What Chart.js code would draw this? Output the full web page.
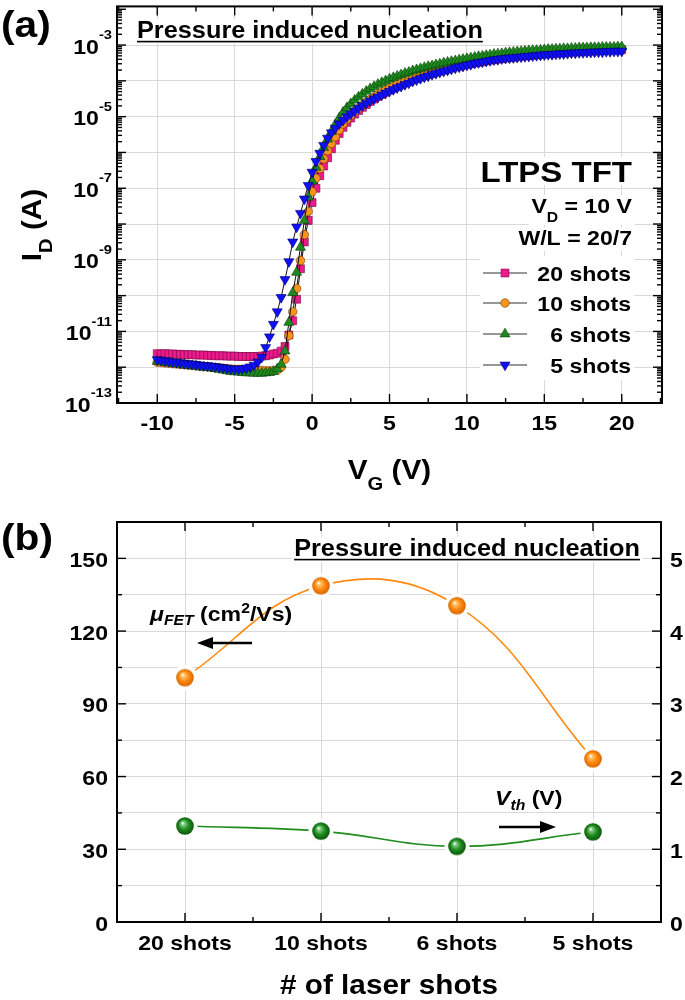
<!DOCTYPE html>
<html>
<head>
<meta charset="utf-8">
<script src="https://cdn.jsdelivr.net/npm/chart.js@4.4.0/dist/chart.umd.min.js"></script>
<style>
html, body { margin: 0; padding: 0; background: #fff; }
#wrap { position: relative; width: 685px; height: 1000px; }
.pane { position: absolute; left: 0; width: 685px; height: 500px; }
</style>
</head>
<body>
<div id="wrap">
  <div class="pane" style="top:0"><canvas id="chartA" width="685" height="500"></canvas></div>
  <div class="pane" style="top:500px"><canvas id="chartB" width="685" height="500"></canvas></div>
</div>
<script>
// ---------- panel (a): transfer curves, log10(I_D) ----------
const vg = [
  -10,-9.75,-9.5,-9.25,-9,-8.75,-8.5,-8.25,-8,-7.75,-7.5,-7.25,-7,-6.75,-6.5,-6.25,
  -6,-5.75,-5.5,-5.25,-5,-4.75,-4.5,-4.25,-4,-3.75,-3.5,-3.25,-3,-2.75,-2.5,-2.25,
  -2,-1.75,-1.5,-1.25,-1,-0.75,-0.5,-0.25,0,0.25,0.5,0.75,1,1.25,1.5,1.75,
  2,2.25,2.5,2.75,3,3.25,3.5,3.75,4,4.25,4.5,4.75,5,5.25,5.5,5.75,
  6,6.25,6.5,6.75,7,7.25,7.5,7.75,8,8.25,8.5,8.75,9,9.25,9.5,9.75,
  10,10.25,10.5,10.75,11,11.25,11.5,11.75,12,12.25,12.5,12.75,13,13.25,13.5,13.75,
  14,14.25,14.5,14.75,15,15.25,15.5,15.75,16,16.25,16.5,16.75,17,17.25,17.5,17.75,
  18,18.25,18.5,18.75,19,19.25,19.5,19.75,20
];
const log20shots = [
  -11.62,-11.63,-11.62,-11.63, -11.63,-11.64,-11.64,-11.65, -11.65,-11.65,-11.66,-11.66,
  -11.66,-11.67,-11.67,-11.68, -11.68,-11.68,-11.69,-11.69, -11.69,-11.70,-11.70,-11.70,
  -11.70,-11.70,-11.70,-11.69, -11.68,-11.66,-11.63,-11.61, -11.55,-11.42,-11.10,-10.70,
  -10.10,-9.25,-8.50,-7.90, -7.40,-7.00,-6.65,-6.38, -6.15,-5.90,-5.66,-5.47,
  -5.30,-5.16,-5.04,-4.93, -4.83,-4.74,-4.66,-4.58, -4.51,-4.44,-4.38,-4.32,
  -4.26,-4.21,-4.16,-4.11, -4.06,-4.02,-3.97,-3.93, -3.89,-3.86,-3.82,-3.79,
  -3.75,-3.72,-3.69,-3.67, -3.64,-3.61,-3.59,-3.56, -3.54,-3.52,-3.50,-3.48,
  -3.46,-3.44,-3.42,-3.41, -3.39,-3.38,-3.36,-3.35, -3.34,-3.32,-3.31,-3.30,
  -3.29,-3.28,-3.27,-3.26, -3.25,-3.24,-3.23,-3.22, -3.22,-3.21,-3.20,-3.19,
  -3.19,-3.18,-3.17,-3.17, -3.16,-3.16,-3.15,-3.15, -3.14,-3.14,-3.13,-3.13, -3.13
];
const log10shots = [
  -11.86,-11.87,-11.88,-11.89, -11.90,-11.91,-11.92,-11.93, -11.94,-11.95,-11.96,-11.97,
  -11.98,-11.99,-12.00,-12.01, -12.02,-12.03,-12.04,-12.05, -12.06,-12.06,-12.07,-12.07,
  -12.08,-12.08,-12.09,-12.09, -12.10,-12.10,-12.10,-12.08, -12.00,-11.78,-11.12,-10.45,
  -9.80,-9.02,-8.30,-7.65, -7.10,-6.72,-6.45,-6.18, -5.95,-5.75,-5.56,-5.37,
  -5.20,-5.07,-4.96,-4.86, -4.77,-4.68,-4.60,-4.52, -4.45,-4.38,-4.32,-4.26,
  -4.20,-4.15,-4.10,-4.05, -4.00,-3.96,-3.92,-3.88, -3.84,-3.80,-3.77,-3.73,
  -3.70,-3.67,-3.64,-3.61, -3.59,-3.56,-3.54,-3.51, -3.49,-3.47,-3.45,-3.43,
  -3.41,-3.39,-3.38,-3.36, -3.35,-3.33,-3.32,-3.30, -3.29,-3.28,-3.27,-3.26,
  -3.25,-3.24,-3.23,-3.22, -3.21,-3.20,-3.19,-3.18, -3.18,-3.17,-3.16,-3.16,
  -3.15,-3.14,-3.14,-3.13, -3.13,-3.12,-3.12,-3.11, -3.11,-3.11,-3.10,-3.10, -3.10
];
const log6shots = [
  -11.84,-11.85,-11.87,-11.88, -11.90,-11.91,-11.92,-11.94, -11.95,-11.96,-11.97,-11.99,
  -12.00,-12.01,-12.02,-12.04, -12.06,-12.08,-12.10,-12.12, -12.13,-12.14,-12.15,-12.16,
  -12.16,-12.17,-12.17,-12.17, -12.16,-12.15,-12.12,-12.05, -11.92,-11.55,-10.75,-9.92,
  -9.35,-8.65,-7.90,-7.25, -6.80,-6.42,-6.12,-5.86, -5.63,-5.42,-5.22,-5.04,
  -4.88,-4.75,-4.64,-4.54, -4.45,-4.37,-4.29,-4.22, -4.16,-4.10,-4.05,-4.00,
  -3.95,-3.91,-3.87,-3.83, -3.79,-3.76,-3.72,-3.69, -3.66,-3.63,-3.60,-3.58,
  -3.55,-3.53,-3.50,-3.48, -3.46,-3.44,-3.42,-3.40, -3.38,-3.36,-3.34,-3.32,
  -3.31,-3.29,-3.28,-3.26, -3.25,-3.24,-3.22,-3.21, -3.20,-3.19,-3.18,-3.17,
  -3.16,-3.15,-3.15,-3.14, -3.13,-3.12,-3.12,-3.11, -3.11,-3.10,-3.10,-3.09,
  -3.09,-3.08,-3.08,-3.08, -3.07,-3.07,-3.07,-3.06, -3.06,-3.06,-3.06,-3.05, -3.05
];
const log5shots = [
  -11.79,-11.80,-11.82,-11.83, -11.85,-11.86,-11.87,-11.89, -11.90,-11.91,-11.92,-11.94,
  -11.95,-11.96,-11.97,-11.98, -12.00,-12.01,-12.03,-12.04, -12.05,-12.05,-12.04,-12.02,
  -11.99,-11.94,-11.85,-11.72, -11.45,-11.15,-10.80,-10.45, -10.05,-9.55,-9.05,-8.50,
  -8.08,-7.70,-7.30,-6.92, -6.55,-6.25,-6.02,-5.80, -5.60,-5.45,-5.32,-5.20,
  -5.10,-5.00,-4.92,-4.84, -4.76,-4.69,-4.62,-4.56, -4.50,-4.45,-4.39,-4.34,
  -4.29,-4.24,-4.19,-4.15, -4.10,-4.06,-4.01,-3.97, -3.93,-3.89,-3.86,-3.82,
  -3.79,-3.76,-3.73,-3.70, -3.67,-3.64,-3.61,-3.59, -3.56,-3.54,-3.51,-3.49,
  -3.47,-3.45,-3.43,-3.41, -3.40,-3.38,-3.37,-3.36, -3.35,-3.34,-3.33,-3.32,
  -3.31,-3.30,-3.29,-3.28, -3.27,-3.26,-3.26,-3.25, -3.24,-3.24,-3.23,-3.22,
  -3.22,-3.21,-3.21,-3.20, -3.20,-3.19,-3.19,-3.19, -3.18,-3.18,-3.17,-3.17, -3.17
];
const seriesNames = ['20 shots', '10 shots', '6 shots', '5 shots'];
const xTickValues = [-10, -5, 0, 5, 10, 15, 20];
const yTickExponents = [-13, -11, -9, -7, -5, -3];

// ---------- panel (b): mobility and threshold voltage ----------
const shotLabels = ['20 shots', '10 shots', '6 shots', '5 shots'];
const mobility = [100.8, 138.7, 130.5, 67.3];
const vth = [1.32, 1.25, 1.04, 1.24];
const leftTicks = [0, 30, 60, 90, 120, 150];
const rightTicks = [0, 1, 2, 3, 4, 5];

// ---------- text helpers ----------
const FONT = '"Liberation Sans", Arial, sans-serif';
const SX = 1.1; // the original lettering is a little wider than Arial

function rich(ctx, segs, x, y, size, align, box) {
  const parts = [];
  let w = 0;
  for (const s of segs) {
    const small = s.sub || s.sup;
    const sz = size * (s.sz || (small ? 0.68 : 1));
    const dy = size * (s.dy !== undefined ? s.dy : (s.sub ? 0.42 : s.sup ? -0.45 : 0));
    const font = (s.it ? 'italic ' : '') + 'bold ' + sz.toFixed(1) + 'px ' + FONT;
    ctx.font = font;
    const mw = ctx.measureText(s.t).width * SX;
    parts.push({ t: s.t, font, dy, w: mw });
    w += mw;
  }
  let cx = align === 'center' ? x - w / 2 : align === 'right' ? x - w : x;
  const left = cx;
  ctx.save();
  if (box) {
    ctx.fillStyle = '#fff';
    ctx.fillRect(left - 3, y - box[0], w + 6, box[0] + box[1]);
  }
  ctx.fillStyle = '#000';
  ctx.textAlign = 'left';
  ctx.textBaseline = 'alphabetic';
  for (const p of parts) {
    ctx.font = p.font;
    ctx.save();
    ctx.translate(cx, y + p.dy);
    ctx.scale(SX, 1);
    ctx.fillText(p.t, 0, 0);
    ctx.restore();
    cx += p.w;
  }
  ctx.restore();
  return { left, width: w };
}

function tick(ctx, x1, y1, x2, y2) {
  ctx.beginPath();
  ctx.moveTo(x1, y1);
  ctx.lineTo(x2, y2);
  ctx.stroke();
}

function arrow(ctx, x1, y, x2) {
  const dir = Math.sign(x2 - x1), hl = 16, hw = 6;
  ctx.save();
  ctx.strokeStyle = '#000';
  ctx.fillStyle = '#000';
  ctx.lineWidth = 2.4;
  tick(ctx, x1, y, x2 - dir * (hl - 1), y);
  ctx.beginPath();
  ctx.moveTo(x2, y);
  ctx.lineTo(x2 - dir * hl, y - hw);
  ctx.lineTo(x2 - dir * hl, y + hw);
  ctx.closePath();
  ctx.fill();
  ctx.restore();
}

// ---------- panel (a) chart ----------
const styleA = [
  { style: 'rect', r: 5.6, rot: 0, fill: '#EC1A8A', edge: '#7a0a45', order: 4 },
  { style: 'circle', r: 4.3, rot: 0, fill: '#F7931E', edge: '#7a4200', order: 3 },
  { style: 'triangle', r: 5.8, rot: 0, fill: '#1E8A1E', edge: '#0a3d0a', order: 2 },
  { style: 'triangle', r: 5.8, rot: 180, fill: '#1010F5', edge: '#00006a', order: 1 }
];
const logsA = [log20shots, log10shots, log6shots, log5shots];

const datasetsA = logsA.map((logs, k) => ({
  label: seriesNames[k],
  data: vg.map((v, i) => ({ x: v, y: Math.pow(10, logs[i]) })),
  borderColor: '#111',
  borderWidth: 1,
  pointStyle: styleA[k].style,
  pointRotation: styleA[k].rot,
  pointRadius: styleA[k].r,
  pointBackgroundColor: styleA[k].fill,
  pointBorderColor: styleA[k].edge,
  pointBorderWidth: 0.6,
  tension: 0,
  order: styleA[k].order
}));

const panelA = {
  id: 'panelA',
  afterDraw(chart) {
    const ctx = chart.ctx, a = chart.chartArea, xs = chart.scales.x, ys = chart.scales.y;
    ctx.save();

    // texts inside the plot (with white fill like the original)
    const t1 = rich(ctx, [{ t: 'Pressure induced nucleation' }], 137, 38, 23, 'left', [19, 6]);
    ctx.fillStyle = '#000';
    ctx.fillRect(t1.left, 40.8, t1.width, 1.6);
    rich(ctx, [{ t: 'LTPS TFT' }], 632, 182, 30, 'right', [25, 3]);
    rich(ctx, [{ t: 'V' }, { t: 'D', sub: 1 }, { t: ' = 10 V' }], 632, 213, 21, 'right', [18, 12]);
    rich(ctx, [{ t: 'W/L = 20/7' }], 632, 245, 21, 'right', [18, 6]);

    // legend
    ctx.fillStyle = '#fff';
    ctx.fillRect(480, 256, 154, 124);
    const rows = [273, 303, 334, 365];
    rows.forEach((ry, k) => {
      ctx.strokeStyle = '#333';
      ctx.lineWidth = 1.2;
      tick(ctx, 483, ry, 527, ry);
      ctx.fillStyle = styleA[k].fill;
      ctx.strokeStyle = styleA[k].edge;
      ctx.lineWidth = 0.6;
      Chart.helpers.drawPoint(ctx, { pointStyle: styleA[k].style, rotation: styleA[k].rot, radius: styleA[k].r, borderWidth: 0.6 }, 505, ry);
      rich(ctx, [{ t: seriesNames[k] }], 631, ry + 7.5, 21, 'right');
    });

    // frame and inward ticks
    ctx.strokeStyle = '#000';
    ctx.lineWidth = 2;
    ctx.strokeRect(a.left, a.top, a.right - a.left, a.bottom - a.top);
    ctx.lineWidth = 1.4;
    for (let v = -12.5; v <= 22.5; v += 2.5) {
      const p = xs.getPixelForValue(v);
      if (p < a.left || p > a.right) continue;
      const L = (v % 5 === 0) ? 9 : 5;
      tick(ctx, p, a.bottom, p, a.bottom - L);
      tick(ctx, p, a.top, p, a.top + L);
    }
    for (let e = -13; e <= -2; e++) {
      for (let m = 1; m <= 9; m++) {
        const val = m * Math.pow(10, e);
        if (val > ys.max) break;
        const p = ys.getPixelForValue(val);
        const L = m === 1 ? 9 : 5;
        tick(ctx, a.left, p, a.left + L, p);
        tick(ctx, a.right, p, a.right - L, p);
      }
    }

    // tick labels
    xTickValues.forEach(v => {
      rich(ctx, [{ t: String(v) }], xs.getPixelForValue(v), a.bottom + 27, 21, 'center');
    });
    yTickExponents.forEach(e => {
      const p = ys.getPixelForValue(Math.pow(10, e));
      rich(ctx, [{ t: '10' }, { t: String(e), sup: 1, sz: 0.64, dy: -0.68 }], 112, p + 8.5, 21, 'right');
    });

    // axis titles
    rich(ctx, [{ t: 'V' }, { t: 'G', sub: 1 }, { t: ' (V)' }], (a.left + a.right) / 2, 479, 27, 'center');
    ctx.save();
    ctx.translate(41, 225);
    ctx.rotate(-Math.PI / 2);
    rich(ctx, [{ t: 'I' }, { t: 'D', sub: 1 }, { t: ' (A)' }], 0, 0, 27, 'center');
    ctx.restore();

    rich(ctx, [{ t: '(a)' }], 1, 37, 37, 'left');
    ctx.restore();
  }
};

new Chart(document.getElementById('chartA'), {
  type: 'line',
  data: { datasets: datasetsA },
  options: {
    responsive: false,
    animation: false,
    events: [],
    layout: { padding: { left: 117, top: 3, right: 23, bottom: 97 } },
    plugins: { legend: { display: false }, tooltip: { enabled: false } },
    scales: {
      x: {
        type: 'linear', min: -12.6, max: 22.6,
        ticks: { display: false },
        border: { display: false },
        grid: { color: '#d9d9d9', lineWidth: 1, drawTicks: false },
        afterBuildTicks: s => { s.ticks = xTickValues.map(v => ({ value: v })); }
      },
      y: {
        type: 'logarithmic', min: 1e-13, max: Math.pow(10, -1.92),
        ticks: { display: false },
        border: { display: false },
        grid: { color: '#d9d9d9', lineWidth: 1, drawTicks: false },
        afterBuildTicks: s => {
          const t = [];
          for (let e = -13; e <= -3; e++) t.push({ value: Math.pow(10, e) });
          s.ticks = t;
        }
      }
    }
  },
  plugins: [panelA]
});

// ---------- panel (b) chart ----------
function ball(base, light, dark) {
  const c = document.createElement('canvas');
  c.width = c.height = 26;
  const g = c.getContext('2d');
  g.fillStyle = '#fff';
  g.beginPath(); g.arc(13, 13, 12.5, 0, Math.PI * 2); g.fill();
  const gr = g.createRadialGradient(10.5, 10, 0.3, 13, 13, 9);
  gr.addColorStop(0, '#ffffff');
  gr.addColorStop(0.16, light);
  gr.addColorStop(0.55, base);
  gr.addColorStop(1, dark);
  g.fillStyle = gr;
  g.beginPath(); g.arc(13, 13, 8.8, 0, Math.PI * 2); g.fill();
  return c;
}
const orangeBall = ball('#FF8A10', '#FFC878', '#D86400');
const greenBall = ball('#1E8C1E', '#86CC86', '#0A560A');

const panelB = {
  id: 'panelB',
  afterDraw(chart) {
    const ctx = chart.ctx, a = chart.chartArea, xs = chart.scales.x, ys = chart.scales.y, y2 = chart.scales.y2;
    ctx.save();

    const t1 = rich(ctx, [{ t: 'Pressure induced nucleation' }], 640, 56, 23, 'right', [19, 6]);
    ctx.fillStyle = '#000';
    ctx.fillRect(t1.left, 58.8, t1.width, 1.6);

    rich(ctx, [{ t: 'μ', it: 1 }, { t: 'FET', sub: 1, it: 1, dy: 0.2 }, { t: ' (cm' }, { t: '2', sup: 1, dy: -0.4 }, { t: '/Vs)' }], 150, 121, 21, 'left');
    arrow(ctx, 252, 143, 197);
    rich(ctx, [{ t: 'V', it: 1 }, { t: 'th', sub: 1, it: 1, dy: 0.25 }, { t: ' (V)' }], 495, 305, 21, 'left');
    arrow(ctx, 499, 327, 556);

    // frame and inward ticks
    ctx.strokeStyle = '#000';
    ctx.lineWidth = 2;
    ctx.strokeRect(a.left, a.top, a.right - a.left, a.bottom - a.top);
    ctx.lineWidth = 1.4;
    for (let i = 0; i < shotLabels.length; i++) {
      const p = xs.getPixelForValue(i);
      tick(ctx, p, a.bottom, p, a.bottom - 9);
      tick(ctx, p, a.top, p, a.top + 9);
      if (i < shotLabels.length - 1) {
        const m = (p + xs.getPixelForValue(i + 1)) / 2;
        tick(ctx, m, a.bottom, m, a.bottom - 5);
        tick(ctx, m, a.top, m, a.top + 5);
      }
    }
    for (let v = 0; v <= 165; v += 15) {
      const p = ys.getPixelForValue(v);
      tick(ctx, a.left, p, a.left + (v % 30 === 0 ? 9 : 5), p);
    }
    for (let v = 0; v <= 5.5; v += 0.5) {
      const p = y2.getPixelForValue(v);
      tick(ctx, a.right, p, a.right - (Math.abs(v % 1) < 1e-9 ? 9 : 5), p);
    }

    // tick labels
    leftTicks.forEach(v => rich(ctx, [{ t: String(v) }], 108, ys.getPixelForValue(v) + 8.5, 21, 'right'));
    rightTicks.forEach(v => rich(ctx, [{ t: String(v) }], 670, y2.getPixelForValue(v) + 8.5, 21, 'left'));
    shotLabels.forEach((s, i) => rich(ctx, [{ t: s }], xs.getPixelForValue(i), a.bottom + 28, 21, 'center'));

    rich(ctx, [{ t: '# of laser shots' }], (a.left + a.right) / 2, 494, 27, 'center');
    rich(ctx, [{ t: '(b)' }], 1, 50, 37, 'left');
    ctx.restore();
  }
};

new Chart(document.getElementById('chartB'), {
  type: 'line',
  data: {
    labels: shotLabels,
    datasets: [
      {
        label: 'mobility', data: mobility, yAxisID: 'y',
        borderColor: '#FF8A10', borderWidth: 1.6, tension: 0.4,
        pointStyle: orangeBall, pointRadius: 9
      },
      {
        label: 'Vth', data: vth, yAxisID: 'y2',
        borderColor: '#1E8C1E', borderWidth: 1.6, tension: 0.4,
        pointStyle: greenBall, pointRadius: 9
      }
    ]
  },
  options: {
    responsive: false,
    animation: false,
    events: [],
    layout: { padding: { left: 117, top: 22, right: 24, bottom: 78 } },
    plugins: { legend: { display: false }, tooltip: { enabled: false } },
    scales: {
      x: {
        type: 'category', offset: true,
        ticks: { display: false },
        border: { display: false },
        grid: { color: '#d9d9d9', lineWidth: 1, drawTicks: false, offset: false }
      },
      y: {
        position: 'left', min: 0, max: 165,
        ticks: { display: false },
        border: { display: false },
        grid: { color: '#d9d9d9', lineWidth: 1, drawTicks: false },
        afterBuildTicks: s => {
          const t = [];
          for (let v = 0; v <= 165; v += 15) t.push({ value: v });
          s.ticks = t;
        }
      },
      y2: {
        position: 'right', min: 0, max: 5.5, display: false
      }
    }
  },
  plugins: [panelB]
});
</script>
</body>
</html>
